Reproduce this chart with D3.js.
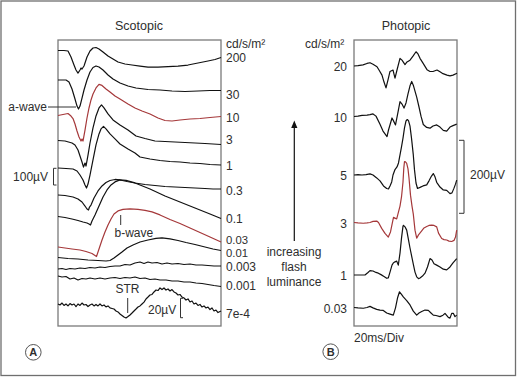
<!DOCTYPE html>
<html>
<head>
<meta charset="utf-8">
<script src="https://cdn.jsdelivr.net/npm/d3@7"></script>
<style>
  html, body { margin: 0; padding: 0; background: #fff; }
  svg text { font-family: "Liberation Sans", Arial, Helvetica, sans-serif; fill: #2e2e2e; }
</style>
</head>
<body>
<svg id="chart" width="517" height="377"></svg>
<script>
// ---------------- DATA ----------------
// Scotopic traces: [time ms, amplitude µV relative to pre-flash baseline]
const scotLabels = ["200", "30", "10", "3", "1", "0.3", "0.1", "0.03", "0.01", "0.003", "0.001", "7e-4"];

const scot200 = [[0,0],[12,0],[20,-3],[26,-39],[32,-87],[36,-117],[40,-135],[44,-117],[46,-105],[48,-111],[52,-93],[58,-39],[64,-3],[70,15],[76,18],[82,9],[90,-9],[100,-33],[110,-51],[120,-69],[134,-81],[148,-87],[164,-93],[180,-99],[200,-99],[220,-96],[240,-93],[260,-87],[280,-75],[300,-63],[314,-54],[326,-42]];
const scot30 = [[0,0],[16,0],[22,-12],[28,-54],[34,-114],[38,-156],[41,-174],[44,-156],[48,-108],[52,-60],[58,0],[64,48],[70,75],[76,84],[82,78],[90,60],[100,30],[110,6],[124,-18],[140,-36],[156,-48],[180,-57],[204,-60],[228,-66],[254,-69],[280,-66],[304,-63],[326,-63]];
const scot10 = [[0,0],[10,6],[20,12],[26,-3],[30,-18],[34,-51],[38,-93],[42,-129],[46,-153],[48,-141],[50,-153],[54,-87],[58,-15],[62,45],[66,93],[70,129],[76,165],[82,186],[88,180],[96,159],[104,141],[114,117],[124,99],[140,69],[154,45],[168,27],[184,9],[200,-15],[214,-30],[228,-33],[244,-27],[264,-21],[284,-18],[304,-12],[326,-6]];
const scot3 = [[0,0],[14,-3],[28,-15],[34,-27],[40,-57],[44,-93],[48,-129],[51,-159],[54,-135],[56,-153],[60,-87],[64,-15],[70,75],[76,147],[82,195],[87,213],[92,195],[100,159],[110,123],[124,93],[140,63],[156,27],[174,12],[194,-3],[214,-6],[234,-9],[254,-12],[274,-15],[294,-18],[310,-21],[326,-24]];
const scot1 = [[0,0],[16,-3],[30,-6],[38,-18],[44,-42],[50,-72],[54,-102],[57,-120],[60,-96],[64,-42],[70,48],[76,138],[82,204],[86,234],[91,249],[96,234],[104,204],[114,174],[124,144],[140,114],[154,90],[164,66],[184,54],[204,45],[224,39],[244,36],[264,30],[284,27],[304,21],[326,18]];
const scot03 = [[0,0],[14,-3],[30,-12],[40,-24],[48,-42],[54,-66],[58,-84],[61,-90],[63,-72],[66,-60],[72,-18],[80,24],[88,54],[96,75],[104,87],[114,93],[124,90],[138,81],[154,72],[174,63],[194,57],[214,51],[234,48],[254,45],[274,42],[294,39],[310,36],[326,36]];
const scot01 = [[0,0],[14,-6],[28,-15],[40,-24],[50,-33],[58,-39],[62,-45],[65,-51],[68,-27],[74,9],[82,63],[90,117],[98,159],[106,189],[114,207],[124,219],[136,216],[154,201],[184,165],[214,123],[244,87],[274,51],[304,15],[326,-12]];
const scot003 = [[0,0],[14,-6],[28,-12],[44,-18],[56,-27],[68,-39],[74,-51],[77,-57],[82,-12],[88,42],[94,90],[100,132],[106,168],[112,198],[120,216],[130,225],[144,228],[160,225],[174,219],[188,210],[204,192],[224,165],[244,141],[264,114],[284,87],[304,60],[326,30]];
const scot001 = [[0,0],[20,-6],[40,-9],[60,-15],[80,-18],[96,-21],[104,-18],[112,-3],[120,15],[128,33],[138,57],[150,75],[164,93],[180,105],[196,114],[208,117],[224,111],[240,102],[256,90],[274,78],[294,63],[310,51],[326,42]];
const scot0003 = [[0,0],[8,3],[16,-3],[24,3],[34,0],[44,6],[54,3],[64,9],[74,6],[84,12],[94,9],[104,15],[114,18],[124,18],[134,27],[144,24],[154,36],[164,42],[172,33],[180,42],[188,36],[198,39],[208,30],[218,36],[228,30],[240,33],[252,27],[264,30],[276,24],[288,24],[300,21],[312,18],[326,18]];
const scot0001 = [[0,0],[8,-6],[16,-3],[24,-18],[32,-12],[40,-24],[48,-15],[56,-18],[64,-12],[74,-18],[84,-12],[94,-18],[104,-12],[114,-9],[124,-15],[134,-9],[144,-12],[154,-6],[164,-15],[174,-12],[184,-21],[194,-18],[204,-24],[216,-24],[228,-30],[240,-30],[252,-36],[264,-36],[276,-42],[288,-45],[300,-51],[312,-57],[326,-63]];
// scotopic threshold response (STR) trace, shown at higher gain (20 µV bar)
const scot7e4 = [[0,0],[4,-1],[8,1],[12,-1.5],[16,0],[20,-2],[24,0.5],[28,-1],[32,0],[36,-2.6],[40,0],[44,-1.5],[48,1],[52,-1],[56,-0.5],[60,-2.6],[64,-1],[68,0],[72,-2],[76,-0.5],[80,-2],[84,0],[88,-2],[92,-1],[96,-3],[100,-2],[104,-4],[108,-4.6],[112,-5.2],[116,-7.2],[120,-8.2],[124,-10.3],[128,-11.8],[132,-13.4],[136,-14.4],[140,-12.9],[144,-11.3],[148,-9.3],[152,-7.2],[156,-5.2],[160,-3.1],[164,-2],[168,0],[172,2],[176,5.2],[180,7.2],[184,9.3],[188,9.8],[192,12.4],[196,14.4],[200,13.9],[204,16.5],[208,14.9],[212,16.5],[216,14.4],[220,15.5],[224,13.4],[228,14.9],[232,12.4],[236,11.3],[240,9.3],[244,9.8],[248,7.2],[252,6.2],[256,4.1],[260,5.2],[264,2.1],[268,3.1],[272,0],[276,1],[280,-1.5],[284,-0.5],[288,-3.1],[292,-2],[296,-4.1],[300,-3.1],[304,-5.7],[308,-4.1],[312,-7.2],[316,-6.2],[320,-8.8],[326,-7.2]];

const scotSeries = [scot200, scot30, scot10, scot3, scot1, scot03, scot01, scot003, scot001, scot0003, scot0001, scot7e4];

// Photopic traces: [time ms, amplitude µV]
const photLabels = ["20", "10", "5", "3", "1", "0.03"];

const phot20 = [[0,0],[4,1],[9,3],[13,7],[16,9],[19,5],[23,-2],[25,-11],[28,-25],[30,-44],[32,-60],[34,-38],[36,-15],[39,-11],[40,-22],[41,-33],[43,-11],[46,21],[48,16],[51,4],[53,11],[56,16],[59,27],[62,39],[64,33],[66,21],[69,8],[73,-10],[76,-15],[79,-15],[83,-11],[86,-16],[89,-21],[93,-25],[96,-27],[99,-25],[103,-20]];
const phot10 = [[0,0],[4,1],[8,3],[13,4],[16,5],[19,7],[22,1],[26,-21],[29,-40],[33,-55],[34.5,-37],[38,-4],[39.5,-12],[41.5,-23],[44,12],[46,41],[48,34],[50,23],[52,37],[54,62],[56,84],[57.7,96],[59.5,84],[62.7,53],[65,26],[67,1],[69.3,-22],[72.7,-30],[76,-32],[79,-26],[82.7,-23],[86,-29],[89.3,-38],[92.7,-40],[96,-29],[99,-25],[102.7,-21]];
const phot5 = [[0,0],[4,1],[8,0],[12,1],[16,3],[19,0],[22.7,-8],[26,-16],[29.5,-30],[32.7,-37],[34.5,-38],[36,-30],[37.7,-19],[39,0],[41,15],[43,22],[44.5,33],[46,55],[47.5,77],[49,101],[50.5,129],[52,148],[53.3,152],[54.5,149],[56,134],[57.5,101],[59.3,55],[60.5,14],[62,-22],[63.5,-37],[66,-34],[69,-30],[72.7,-27],[75,-16],[77.5,-3],[79.3,4],[81,-5],[82.7,-20],[86,-33],[89.3,-41],[92.7,-42],[94.5,-47],[96,-51],[98,-49],[100,-36],[101.5,-25],[102.7,-14]];
const phot3 = [[0,0],[4,-1],[9.3,-2],[13,-1],[16,0],[19,3],[22.7,4],[24.5,0],[27.7,-16],[31,-30],[34.3,-40],[36.5,-26],[38.5,1],[39.5,14],[41,12],[42.7,10],[44.5,29],[46,45],[47.5,70],[49,111],[49.8,149],[50.5,167],[51.5,166],[52.7,162],[54,147],[55,122],[56.5,75],[58,45],[59.3,23],[61,-21],[62.7,-43],[64.5,-34],[67.7,-23],[70,-15],[72.7,-11],[75,-8],[77.7,-7],[80,-8],[82.7,-12],[84.5,-29],[87.7,-44],[90,-47],[92.7,-48],[95,-51],[97.7,-52],[100,-49],[101.5,-40],[102.7,-21]];
const phot1 = [[0,0],[4,0],[8,0],[11,0],[14,7],[16,12],[19,11],[22,7],[24.3,5],[27,1],[30,-4],[32.7,-9],[34.3,-8],[36,8],[38,27],[39.3,33],[41,36],[42.7,38],[44.3,27],[46,60],[47.5,101],[49,134],[49.5,136],[51,132],[52.7,123],[54.5,96],[56,74],[57.7,51],[59.5,27],[61,8],[62.7,-5],[64.5,-10],[66,-8],[68.5,-3],[71,5],[73.5,22],[76,45],[78,41],[80,31],[82.7,27],[86,22],[89.3,16],[92.7,14],[96,22],[99,33],[102.7,45]];
const phot003 = [[0,0],[4,-1],[9.3,-2],[13,0],[16,3],[19,-1],[22.7,-5],[26,-7],[29.3,-8],[32.7,-15],[36,-18],[39.3,-21],[41.5,-1],[43.5,26],[45.5,43],[47.5,36],[49.3,29],[52.7,19],[56,7],[59.3,-10],[62.7,-21],[65,-15],[67.7,-11],[71,-7],[74.3,-8],[77,-15],[79.3,-21],[82,-22],[86,-25],[89,-21],[91,-16],[94.3,-27],[96,-29],[97.7,-16],[99.3,-16],[101,-25],[102.7,-21]];

const photSeries = [phot20, phot10, phot5, phot3, phot1, phot003];

// ---------------- LAYOUT / STYLE ----------------
const ink = "#111", red = "#a5383a", boxGrey = "#7a7a7a";
const scotBox = {x0: 58, x1: 221, y0: 40, y1: 326};
const photBox = {x0: 354, x1: 457, y0: 40, y1: 326};
const scotBaselines = [50.5, 80, 115.5, 140.5, 168, 195, 216.5, 247, 257.5, 269, 276, 304];
const scotLabelY = [57.7, 94.3, 117.3, 139.3, 165.7, 190.7, 219, 240.3, 253.2, 266.7, 286, 313.3];
const photBaselines = [66, 116.5, 175, 222.5, 275, 307.5];
const scotRed = ["10", "0.03"], photRed = ["3"];
const scotPxPer100uV = 16.7, strPxPer20uV = 19.4, photPxPer200uV = 73;

const svg = d3.select("#chart");

// outer frame
svg.append("rect").attr("x", 1).attr("y", 1).attr("width", 514.5).attr("height", 374.5)
  .attr("fill", "none").attr("stroke", "#6f6f6f").attr("stroke-width", 1.3);

// time scales
const xScot = d3.scaleLinear().domain([0, 326]).range([scotBox.x0, scotBox.x1]);
const xPhot = d3.scaleLinear().domain([0, 103]).range([photBox.x0, photBox.x1]);

function box(b) {
  svg.append("rect").attr("x", b.x0).attr("y", b.y0).attr("width", b.x1 - b.x0).attr("height", b.y1 - b.y0)
    .attr("fill", "none").attr("stroke", boxGrey).attr("stroke-width", 1.3);
}
box(scotBox); box(photBox);

// scotopic traces
const scotG = svg.append("g");
scotSeries.forEach((s, i) => {
  const base = scotBaselines[i];
  const isStr = scotLabels[i] === "7e-4";
  const y = isStr
    ? d3.scaleLinear().domain([0, 20]).range([base, base - strPxPer20uV])
    : d3.scaleLinear().domain([0, 100]).range([base, base - scotPxPer100uV]);
  const line = d3.line().x(d => xScot(d[0])).y(d => y(d[1]));
  scotG.append("path").attr("d", line(s)).attr("fill", "none")
    .attr("stroke", scotRed.includes(scotLabels[i]) ? red : ink)
    .attr("stroke-width", 1.2).attr("stroke-linejoin", "round");
  const tight = scotLabels[i] === "0.03" || scotLabels[i] === "0.01";
  scotG.append("text").attr("x", 226).attr("y", scotLabelY[i]).attr("dy", "0.35em")
    .attr("font-size", tight ? 11.3 : 12).text(scotLabels[i]);
});

// photopic traces
const photG = svg.append("g");
photSeries.forEach((s, i) => {
  const base = photBaselines[i];
  const y = d3.scaleLinear().domain([0, 200]).range([base, base - photPxPer200uV]);
  const line = d3.line().x(d => xPhot(d[0])).y(d => y(d[1]));
  photG.append("path").attr("d", line(s)).attr("fill", "none")
    .attr("stroke", photRed.includes(photLabels[i]) ? red : ink)
    .attr("stroke-width", 1.2).attr("stroke-linejoin", "round");
  photG.append("text").attr("x", 347).attr("y", base + 0.8).attr("dy", "0.35em")
    .attr("text-anchor", "end").attr("font-size", 12).text(photLabels[i]);
});

// titles and units
svg.append("text").attr("x", 139).attr("y", 26).attr("dy", "0.35em").attr("text-anchor", "middle")
  .attr("font-size", 12.5).text("Scotopic");
svg.append("text").attr("x", 406).attr("y", 26).attr("dy", "0.35em").attr("text-anchor", "middle")
  .attr("font-size", 12.5).text("Photopic");
svg.append("text").attr("x", 226).attr("y", 43.3).attr("dy", "0.35em").attr("font-size", 12).text("cd/s/m²");
svg.append("text").attr("x", 305).attr("y", 43.3).attr("dy", "0.35em").attr("font-size", 12).text("cd/s/m²");

// annotations (scotopic)
const annot = "#333";
svg.append("text").attr("x", 47).attr("y", 107).attr("dy", "0.35em").attr("text-anchor", "end")
  .attr("font-size", 12).text("a-wave");
svg.append("line").attr("x1", 48).attr("x2", 76).attr("y1", 107).attr("y2", 107)
  .attr("stroke", annot).attr("stroke-width", 1);
svg.append("text").attr("x", 48).attr("y", 176.7).attr("dy", "0.35em").attr("text-anchor", "end")
  .attr("font-size", 12).text("100µV");
// 100 µV bracket
const b100 = d3.scaleLinear().domain([0, 100]).range([185, 185 - scotPxPer100uV]);
svg.append("path").attr("d", `M56.5,${b100(100)} H53.5 V${b100(0)} H56.5`)
  .attr("fill", "none").attr("stroke", annot).attr("stroke-width", 1);
// b-wave
svg.append("line").attr("x1", 120.7).attr("x2", 120.7).attr("y1", 215).attr("y2", 225)
  .attr("stroke", annot).attr("stroke-width", 1);
svg.append("text").attr("x", 114.5).attr("y", 233).attr("dy", "0.35em").attr("font-size", 12).text("b-wave");
// STR
svg.append("text").attr("x", 127.5).attr("y", 288.3).attr("dy", "0.35em").attr("text-anchor", "middle")
  .attr("font-size", 12).text("STR");
svg.append("line").attr("x1", 127.7).attr("x2", 127.7).attr("y1", 298).attr("y2", 313)
  .attr("stroke", annot).attr("stroke-width", 1);
// 20 µV bracket
svg.append("text").attr("x", 148).attr("y", 310).attr("dy", "0.35em").attr("font-size", 12).text("20µV");
const b20 = d3.scaleLinear().domain([0, 20]).range([317.7, 317.7 - strPxPer20uV]);
svg.append("path").attr("d", `M183,${b20(20)} H180.5 V${b20(0)} H183`)
  .attr("fill", "none").attr("stroke", annot).attr("stroke-width", 1);

// arrow + text
svg.append("line").attr("x1", 294.3).attr("x2", 294.3).attr("y1", 241).attr("y2", 126)
  .attr("stroke", ink).attr("stroke-width", 1.2);
svg.append("path").attr("d", "M294.3,120.5 L291.2,128 L297.4,128 Z").attr("fill", ink);
["increasing", "flash", "luminance"].forEach((t, i) => {
  svg.append("text").attr("x", 294).attr("y", 251.5 + i * 15).attr("dy", "0.35em")
    .attr("text-anchor", "middle").attr("font-size", 12).text(t);
});

// photopic annotations
const b200 = d3.scaleLinear().domain([0, 200]).range([213.3, 213.3 - photPxPer200uV]);
svg.append("path").attr("d", `M459,${b200(200)} H464 V${b200(0)} H459`)
  .attr("fill", "none").attr("stroke", annot).attr("stroke-width", 1);
svg.append("text").attr("x", 470).attr("y", 175).attr("dy", "0.35em").attr("font-size", 12).text("200µV");
svg.append("text").attr("x", 354).attr("y", 337.3).attr("dy", "0.35em").attr("font-size", 12).text("20ms/Div");

// panel letters
[["A", 33.3, 352.3], ["B", 330.7, 351.7]].forEach(([l, cx, cy]) => {
  svg.append("circle").attr("cx", cx).attr("cy", cy).attr("r", 7.8)
    .attr("fill", "#fff").attr("stroke", "#555").attr("stroke-width", 1);
  svg.append("text").attr("x", cx).attr("y", cy + 0.3).attr("dy", "0.35em").attr("text-anchor", "middle")
    .attr("font-size", 11).attr("font-weight", "bold").text(l);
});
</script>
</body>
</html>
